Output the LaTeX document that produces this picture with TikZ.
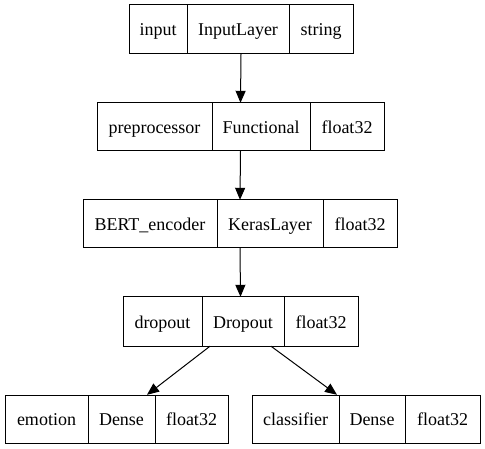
\documentclass[tikz,border=0pt]{standalone}
\usepackage{fontspec}
\setmainfont{Liberation Serif}
\usetikzlibrary{arrows.meta}
\begin{document}
\begin{tikzpicture}[x=1pt,y=-1pt,
  cell/.style={draw=black,line width=1pt,inner sep=0pt,text height=15pt,text depth=2pt,font=\fontsize{18}{20}\selectfont},
  rowbox/.style={inner sep=0pt,draw=none},
  arr/.style={line width=1pt,-{Triangle[length=12pt,width=10pt]}}]
\useasboundingbox (0,0) rectangle (485,449);
% Row 1
\node[cell,minimum width=58pt,minimum height=49pt] (r1a) at (158,29.5) {input};
\node[cell,minimum width=102pt,minimum height=49pt] (r1b) at (238,29.5) {InputLayer};
\node[cell,minimum width=64pt,minimum height=49pt] (r1c) at (321,29.5) {string};
\node[rowbox,minimum width=224pt,minimum height=49pt] (row1) at (241,29.5) {};
% Row 2
\node[cell,minimum width=115pt,minimum height=48pt] (r2a) at (154.5,127) {preprocessor};
\node[cell,minimum width=98pt,minimum height=48pt] (r2b) at (261,127) {Functional};
\node[cell,minimum width=74pt,minimum height=48pt] (r2c) at (347,127) {float32};
\node[rowbox,minimum width=287pt,minimum height=48pt] (row2) at (240.5,127) {};
% Row 3
\node[cell,minimum width=134pt,minimum height=48pt] (r3a) at (150,224) {BERT\_encoder};
\node[cell,minimum width=106pt,minimum height=48pt] (r3b) at (270,224) {KerasLayer};
\node[cell,minimum width=74pt,minimum height=48pt] (r3c) at (360,224) {float32};
\node[rowbox,minimum width=314pt,minimum height=48pt] (row3) at (240,224) {};
% Row 4
\node[cell,minimum width=79pt,minimum height=49pt] (r4a) at (162.5,321.5) {dropout};
\node[cell,minimum width=82pt,minimum height=49pt] (r4b) at (243,321.5) {Dropout};
\node[cell,minimum width=74pt,minimum height=49pt] (r4c) at (321,321.5) {float32};
\node[rowbox,minimum width=235pt,minimum height=49pt] (row4) at (240.5,321.5) {};
% Row 5 left
\node[cell,minimum width=83pt,minimum height=48pt] (r5a) at (46.5,419) {emotion};
\node[cell,minimum width=67pt,minimum height=48pt] (r5b) at (121.5,419) {Dense};
\node[cell,minimum width=73pt,minimum height=48pt] (r5c) at (191.5,419) {float32};
\node[rowbox,minimum width=223pt,minimum height=48pt] (row5a) at (116.5,419) {};
% Row 5 right
\node[cell,minimum width=87pt,minimum height=48pt] (r6a) at (295.5,419) {classifier};
\node[cell,minimum width=66pt,minimum height=48pt] (r6b) at (372,419) {Dense};
\node[cell,minimum width=75pt,minimum height=48pt] (r6c) at (442.5,419) {float32};
\node[rowbox,minimum width=228pt,minimum height=48pt] (row5b) at (366,419) {};
% Arrows
\draw[arr] (row1.south) -- (row2.north);
\draw[arr] (row2.south) -- (row3.north);
\draw[arr] (row3.south) -- (row4.north);
\draw[arr] ([xshift=-30.5pt]row4.south) -- ([xshift=30.5pt]row5a.north);
\draw[arr] ([xshift=30.5pt]row4.south) -- ([xshift=-29pt]row5b.north);
\end{tikzpicture}
\end{document}
